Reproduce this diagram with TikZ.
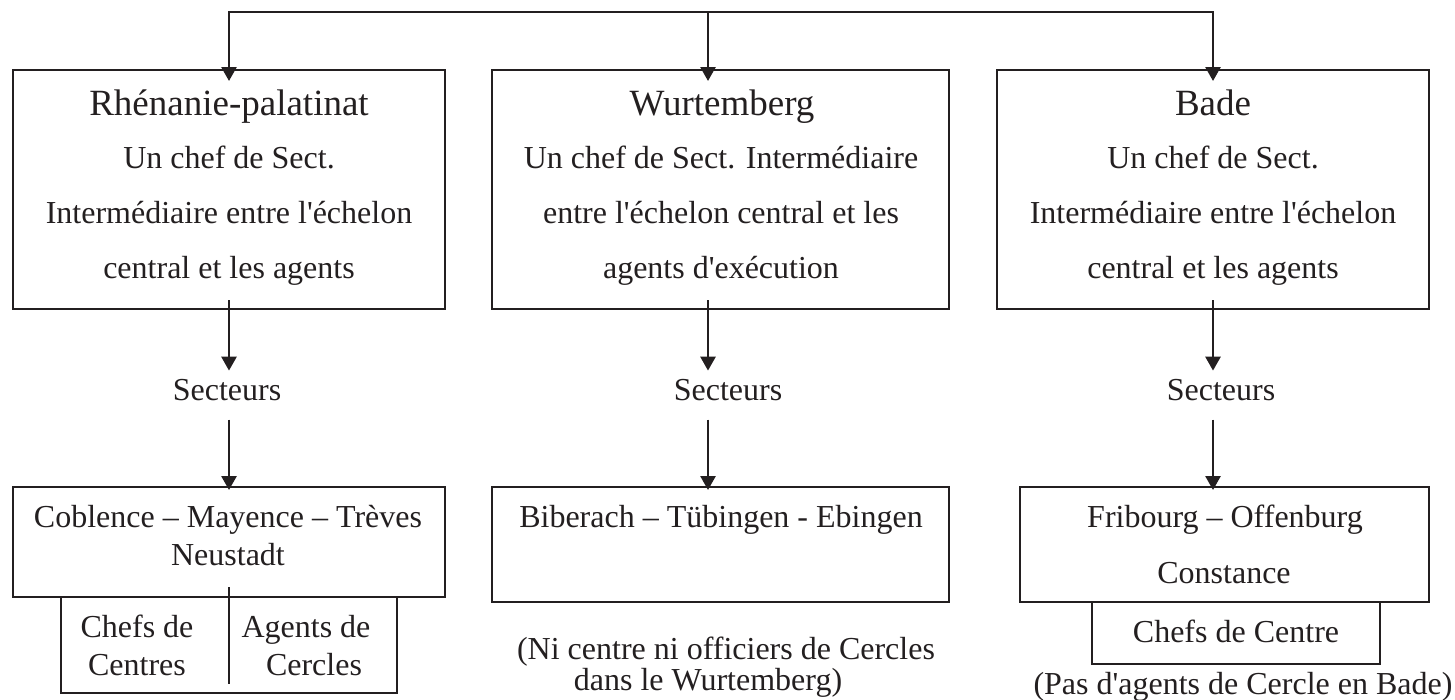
\documentclass[tikz,border=0pt]{standalone}
\usepackage{fontspec}
\setmainfont{Liberation Serif}
\usetikzlibrary{arrows.meta,calc}
\definecolor{ink}{RGB}{35,31,32}
\newcommand{\qs}{\textquotesingle}
\begin{document}
\begin{tikzpicture}[x=1pt,y=-1pt,
  box/.style={draw=ink,line width=2pt,inner sep=0pt},
  txt/.style={anchor=base,inner sep=0pt,text=ink,font=\fontsize{32}{36}\selectfont},
  ttl/.style={anchor=base,inner sep=0pt,text=ink,font=\fontsize{37}{40}\selectfont},
  conn/.style={draw=ink,line width=2.7pt},
  arr/.style={conn,-{Triangle[width=15pt,length=14pt]}},
  darr/.style={conn,{Triangle[width=15pt,length=14pt]}-{Triangle[width=15pt,length=14pt]}}
]
\useasboundingbox (0,0) rectangle (1455,699);

% top boxes
\node[box,minimum width=432,minimum height=239] (r1) at (229,189.5) {};
\node[box,minimum width=457,minimum height=239] (w1) at (720.5,189.5) {};
\node[box,minimum width=432,minimum height=239] (b1) at (1213,189.5) {};

\node[ttl] (r1t) at (229,115) {Rhénanie-palatinat};
\node[txt] (r1a) at (229,168) {Un chef de Sect.};
\node[txt] (r1b) at (229,223) {Intermédiaire entre l\qs échelon};
\node[txt] (r1c) at (229,278) {central et les agents};

\node[ttl] (w1t) at (722,115) {Wurtemberg};
\node[txt] (w1a) at (721,168) {Un chef de Sect. Intermédiaire};
\node[txt] (w1b) at (721,223) {entre l\qs échelon central et les};
\node[txt] (w1c) at (721,278) {agents d\qs exécution};

\node[ttl] (b1t) at (1213,115) {Bade};
\node[txt] (b1a) at (1213,168) {Un chef de Sect.};
\node[txt] (b1b) at (1213,223) {Intermédiaire entre l\qs échelon};
\node[txt] (b1c) at (1213,278) {central et les agents};

% hub
\coordinate (hub) at (708,12);
\draw[darr] ($(r1.north)+(0,12)$) |- (hub) -| ($(b1.north)+(0,12)$);
\draw[arr] (hub) -- ($(hub |- w1.north)+(0,12)$);

% Secteurs
\node[txt] (s1) at (227,400) {Secteurs};
\node[txt] (s2) at (728,400) {Secteurs};
\node[txt] (s3) at (1221,400) {Secteurs};

% bottom boxes
\node[box,minimum width=432,minimum height=110] (r2) at (229,542) {};
\node[box,minimum width=336,minimum height=96] (r3) at (229,645) {};
\node[box,minimum width=457,minimum height=115] (w2) at (720.5,544.5) {};
\node[box,minimum width=409,minimum height=115] (b2) at (1224.5,544.5) {};
\node[box,minimum width=288,minimum height=62] (b3) at (1236,633) {};

\draw[draw=ink,line width=2.4pt] ($(r3.north)+(0,-9)$) -- ($(r3.south)+(0,-10)$);

% arrows columns
\draw[arr] ($(r1.south)+(0,-10)$) -- ($(r1.south |- s1.north)+(0,-8)$);
\draw[arr] ($(r1.south |- s1.south)+(0,19)$) -- ($(r1.south |- r2.north)+(0,4)$);
\draw[arr] ($(hub |- w1.south)+(0,-10)$) -- ($(hub |- s2.north)+(0,-8)$);
\draw[arr] ($(hub |- s2.south)+(0,19)$) -- ($(hub |- w2.north)+(0,4)$);
\draw[arr] ($(b1.south)+(0,-10)$) -- ($(b1.south |- s3.north)+(0,-8)$);
\draw[arr] ($(b1.south |- s3.south)+(0,19)$) -- ($(b1.south |- b2.north)+(0,4)$);

% bottom texts
\node[txt] (r2a) at (228,527) {Coblence – Mayence – Trèves};
\node[txt] (r2b) at (228,565) {Neustadt};
\node[txt] (r3a) at (137,637) {Chefs de};
\node[txt] (r3b) at (137,675) {Centres};
\node[txt] (r3c) at (306,637) {Agents de};
\node[txt] (r3d) at (314,675) {Cercles};

\node[txt] (w2a) at (721,527) {Biberach – Tübingen - Ebingen};
\node[txt] (wn1) at (726,659) {(Ni centre ni officiers de Cercles};
\node[txt] (wn2) at (708,690) {dans le Wurtemberg)};

\node[txt] (b2a) at (1225,527) {Fribourg – Offenburg};
\node[txt] (b2b) at (1224,583) {Constance};
\node[txt] (b3a) at (1236,642) {Chefs de Centre};
\node[txt] (bn) at (1243,694) {(Pas d\qs agents de Cercle en Bade)};
\end{tikzpicture}
\end{document}
